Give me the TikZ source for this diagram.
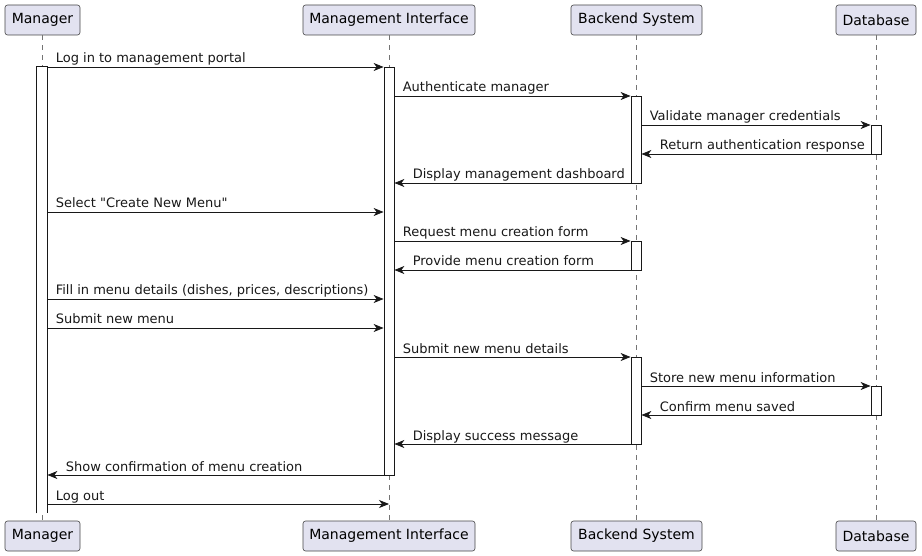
\documentclass[tikz,border=0pt]{standalone}
\usepackage{fontspec}
\setmainfont{DejaVu Sans}
\usepackage{tikz}
\usetikzlibrary{arrows.meta, calc}
\definecolor{partfill}{HTML}{E2E2F0}
\definecolor{ink}{HTML}{181818}

\begin{document}
\begin{tikzpicture}[
  x=1pt, y=-1pt,
  part/.style={rectangle, draw=ink!80, fill=partfill, rounded corners=2.5pt, minimum height=30pt, inner sep=0pt, line width=0.6pt, font=\fontsize{14}{16}\selectfont},
  life/.style={draw=ink!60, dash pattern=on 5pt off 5pt, line width=0.5pt},
  bar/.style={rectangle, draw=ink, fill=white, minimum width=10pt, inner sep=0pt, line width=0.8pt},
  msg/.style={-{Stealth[length=10pt, width=8pt, inset=3pt]}, draw=ink, line width=0.8pt},
  lbl/.style={anchor=base west, inner sep=0pt, text=ink, font=\fontsize{13}{15}\selectfont},
]
\useasboundingbox (0,0) rectangle (922,556);

% Participants
\node[part, minimum width=75pt] (mgrT) at (42.5,20) {Manager};
\node[part, minimum width=172pt] (miT) at (389,20) {Management Interface};
\node[part, minimum width=131pt] (beT) at (636.5,20) {Backend System};
\node[part, minimum width=80pt] (dbT) at (876,20) {Database};
\node[part, minimum width=75pt] (mgrB) at (42.5,536) {Manager};
\node[part, minimum width=172pt] (miB) at (389,536) {Management Interface};
\node[part, minimum width=131pt] (beB) at (636.5,536) {Backend System};
\node[part, minimum width=80pt] (dbB) at (876,536) {Database};

% Lifelines
\draw[life] (mgrT) -- (mgrB);
\draw[life] (miT) -- (miB);
\draw[life] (beT) -- (beB);
\draw[life] (dbT) -- (dbB);

% Activations (the Manager one stays open at the bottom)
\node[bar, draw=none, minimum height=446pt] (bmg) at (42,290) {};
\draw[ink, line width=0.8pt] (bmg.south west) -- (bmg.north west) -- (bmg.north east) -- (bmg.south east);
\node[bar, minimum height=408pt] (bmi) at (389,271) {};
\node[bar, minimum height=87pt] (bb1) at (636,139.5) {};
\node[bar, minimum height=29pt] (bb2) at (636,255.5) {};
\node[bar, minimum height=87pt] (bb3) at (636,400.5) {};
\node[bar, minimum height=29pt] (bd1) at (876,139.5) {};
\node[bar, minimum height=29pt] (bd2) at (876,400.5) {};

% Messages
\draw[msg] (bmg.east |- 0,67) -- (bmi.west |- 0,67) node[lbl, at start, xshift=8pt, yshift=4pt] {Log in to management portal};
\draw[msg] (bmi.east |- 0,96) -- (bb1.west |- 0,96) node[lbl, at start, xshift=8pt, yshift=4pt] {Authenticate manager};
\draw[msg] (bb1.east |- 0,125) -- (bd1.west |- 0,125) node[lbl, at start, xshift=8pt, yshift=4pt] {Validate manager credentials};
\draw[msg] (bd1.west |- 0,154) -- (bb1.east |- 0,154) node[lbl, at end, xshift=18pt, yshift=4pt] {Return authentication response};
\draw[msg] (bb1.west |- 0,183) -- (bmi.east |- 0,183) node[lbl, at end, xshift=18pt, yshift=4pt] {Display management dashboard};
\draw[msg] (bmg.east |- 0,212) -- (bmi.west |- 0,212) node[lbl, at start, xshift=8pt, yshift=4pt] {Select \textquotedbl Create New Menu\textquotedbl};
\draw[msg] (bmi.east |- 0,241) -- (bb2.west |- 0,241) node[lbl, at start, xshift=8pt, yshift=4pt] {Request menu creation form};
\draw[msg] (bb2.west |- 0,270) -- (bmi.east |- 0,270) node[lbl, at end, xshift=18pt, yshift=4pt] {Provide menu creation form};
\draw[msg] (bmg.east |- 0,299) -- (bmi.west |- 0,299) node[lbl, at start, xshift=8pt, yshift=4pt] {Fill in menu details (dishes, prices, descriptions)};
\draw[msg] (bmg.east |- 0,328) -- (bmi.west |- 0,328) node[lbl, at start, xshift=8pt, yshift=4pt] {Submit new menu};
\draw[msg] (bmi.east |- 0,357) -- (bb3.west |- 0,357) node[lbl, at start, xshift=8pt, yshift=4pt] {Submit new menu details};
\draw[msg] (bb3.east |- 0,386) -- (bd2.west |- 0,386) node[lbl, at start, xshift=8pt, yshift=4pt] {Store new menu information};
\draw[msg] (bd2.west |- 0,415) -- (bb3.east |- 0,415) node[lbl, at end, xshift=18pt, yshift=4pt] {Confirm menu saved};
\draw[msg] (bb3.west |- 0,444) -- (bmi.east |- 0,444) node[lbl, at end, xshift=18pt, yshift=4pt] {Display success message};
\draw[msg] (bmi.west |- 0,475) -- (bmg.east |- 0,475) node[lbl, at end, xshift=18pt, yshift=4pt] {Show confirmation of menu creation};
\draw[msg] (bmg.east |- 0,504) -- (miT |- 0,504) node[lbl, at start, xshift=8pt, yshift=4pt] {Log out};
\end{tikzpicture}
\end{document}
